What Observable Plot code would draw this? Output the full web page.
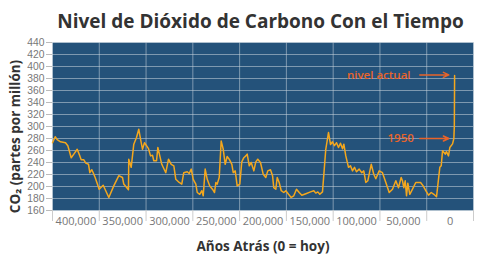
<!DOCTYPE html>
<html>
<head>
<meta charset="utf-8">
<script src="https://cdn.jsdelivr.net/npm/d3@7"></script>
<script src="https://cdn.jsdelivr.net/npm/@observablehq/plot@0.6"></script>
<style>
  html, body { margin: 0; padding: 0; background: #fff; }
  #chart { width: 480px; height: 262px; }
</style>
</head>
<body>
<div id="chart"></div>
<script>
const titleText = "Nivel de Dióxido de Carbono Con el Tiempo";
const yLabelText = "CO₂ (partes por millón)";
const xLabelText = "Años Atrás (0 = hoy)";

// Years before present
const yearsAgo = [425000, 422100, 420000, 416400, 411100, 408600, 405000, 402200, 398600, 395800,
  394300, 391500, 389400, 386500, 385100, 383000, 381500, 379400, 375100, 370800,
  364800, 359500, 354100, 350200, 348800, 343800, 343500, 340900, 338100, 335200,
  332800, 330900, 328800, 326700, 324500, 322400, 320200, 318100, 316700, 313800,
  312400, 310300, 308200, 303900, 301000, 298100, 295300, 293200, 289600, 286800,
  284700, 281000, 278900, 276700, 274600, 271800, 270300, 267600, 265400, 263900,
  261800, 259600, 256900, 254000, 251800, 250400, 249000, 246800, 244700, 242500,
  240400, 238300, 236100, 233300, 231800, 229700, 227600, 224800, 222700, 220500,
  218400, 216900, 214700, 212600, 209800, 207700, 205600, 202700, 199800, 197000,
  194900, 192000, 189800, 188500, 186300, 184800, 182700, 180500, 177800, 175600,
  172700, 169900, 167100, 164200, 161300, 158500, 154200, 149200, 145700, 143600,
  141400, 139300, 136400, 132900, 130000, 127800, 125700, 123600, 121400, 119300,
  117200, 115000, 113600, 111500, 108600, 106500, 104300, 102200, 100100, 97200,
  94400, 92300, 90100, 88000, 84300, 81600, 79400, 75800, 72300, 68700,
  65100, 61600, 58000, 55200, 52300, 50900, 49500, 48000, 46600, 45200,
  43100, 40200, 36700, 31600, 28800, 26000, 23100, 20200, 17400, 14500,
  11000, 9500, 8100, 5200, 3900, 1700, 300, -2600, -4000, -4500, -4800];

// CO2 in ppm
const co2ppm = [273, 283, 278, 274.5, 273, 268, 248, 254, 262, 251,
  244.5, 244.5, 239, 237, 223, 228, 223, 215, 195.5, 202,
  181.7, 201, 218, 215, 204, 194.5, 245.5, 232, 270.5, 281.7,
  295.5, 279, 262, 273, 268, 263, 251, 252, 243, 243,
  265, 251, 237, 223, 245.5, 237, 234.5, 212, 206.7, 204,
  223, 224.5, 221.7, 229, 212, 204, 190, 187, 193, 184.5,
  229, 212, 201, 195.5, 190, 206.7, 204, 215, 276, 262,
  237, 250, 245.5, 237, 223, 226, 201, 204, 241, 248,
  251, 254, 234.5, 240, 226, 241, 245.5, 240, 220.5, 215,
  226, 228, 218, 198, 195.5, 215, 206.7, 193, 190, 193,
  187, 181.7, 184.5, 195.5, 190, 185.5, 188, 191, 193, 189,
  191, 187, 191, 262, 290, 270, 274.5, 268, 273, 265,
  272, 263, 270.5, 251, 232, 234.5, 226, 232, 224.5, 229,
  223, 226, 206.7, 209.5, 237, 220.5, 213, 226, 223, 206.7,
  190, 195.5, 209.5, 198, 215, 209.5, 198, 209.5, 184.5, 205.5,
  187, 195.5, 206.7, 206.7, 201, 193, 185.5, 190, 187, 183,
  232, 234.5, 259.5, 254, 258, 251, 265, 271, 280, 300, 385];

// Axis ticks
const yTicks = [160, 180, 200, 220, 240, 260, 280, 300, 320, 340, 360, 380, 400, 420, 440];
const xLabelTicks = [400000, 350000, 300000, 250000, 200000, 150000, 100000, 50000, 0];
const xGridTicks = [425000, 375000, 325000, 275000, 225000, 175000, 125000, 75000, 25000, -25000];

// Annotations
const annLabels = ["nivel actual", "1950"];
const annTextX = [42300, 38800];
const annArrowX1 = [32400, 32400];
const annArrowX2 = [1400, 1400];
const annY = [386, 280];

const data = yearsAgo.map((x, i) => ({x, y: co2ppm[i]}));
const ann = annLabels.map((t, i) => ({t, tx: annTextX[i], x1: annArrowX1[i], x2: annArrowX2[i], y: annY[i]}));

const font = "'Open Sans', 'DejaVu Sans', sans-serif";
const grid = "#c9d3dd";

const chart = Plot.plot({
  width: 480,
  height: 262,
  marginTop: 42,
  marginBottom: 52,
  marginLeft: 52,
  marginRight: 7,
  style: {fontFamily: font, background: "#fff", overflow: "visible"},
  x: {domain: [425000, -25000], label: null},
  y: {domain: [160, 440], label: null},
  marks: [
    Plot.frame({fill: "#24527a", stroke: null}),
    Plot.gridY(yTicks, {stroke: grid, strokeOpacity: 0.55, strokeWidth: 1}),
    Plot.gridX(xGridTicks, {stroke: grid, strokeOpacity: 0.55, strokeWidth: 1}),
    Plot.axisY(yTicks, {tickSize: 6, tickPadding: 2, stroke: "#bbb", fill: "#777", fontSize: 10.3, fontFamily: "'Liberation Sans', sans-serif", label: null}),
    Plot.axisX(xGridTicks, {tickSize: 11, text: null, stroke: "#ccc", label: null}),
    Plot.axisX(xLabelTicks, {tickSize: 0, tickPadding: 7, tickFormat: d3.format(","), fill: "#777", fontSize: 11, label: null}),
    Plot.line(data, {x: "x", y: "y", stroke: "#f4a71d", strokeWidth: 1.5, curve: "linear"}),
    Plot.arrow(ann, {x1: "x1", x2: "x2", y1: "y", y2: "y", stroke: "#e8642a", strokeWidth: 1.5, headLength: 6, headAngle: 50}),
    Plot.text(ann, {x: "tx", y: "y", text: "t", textAnchor: "end", fill: "#e8642a", fontSize: 11.5, fontWeight: 600, letterSpacing: "0.04em"}),
    Plot.text([titleText], {frameAnchor: "top", dy: -21, dx: -2.5, lineAnchor: "middle", fontSize: 19, fontWeight: 700, fill: "#333", letterSpacing: "2.1px"}),
    Plot.text([yLabelText], {frameAnchor: "left", textAnchor: "middle", dx: -37, dy: 10, rotate: -90, fontSize: 13.5, fontWeight: 700, fill: "#333"}),
    Plot.text([xLabelText], {frameAnchor: "bottom", dy: 36, lineAnchor: "middle", fontSize: 13.5, fontWeight: 700, fill: "#333"})
  ]
});
document.getElementById("chart").append(chart);
</script>
</body>
</html>
